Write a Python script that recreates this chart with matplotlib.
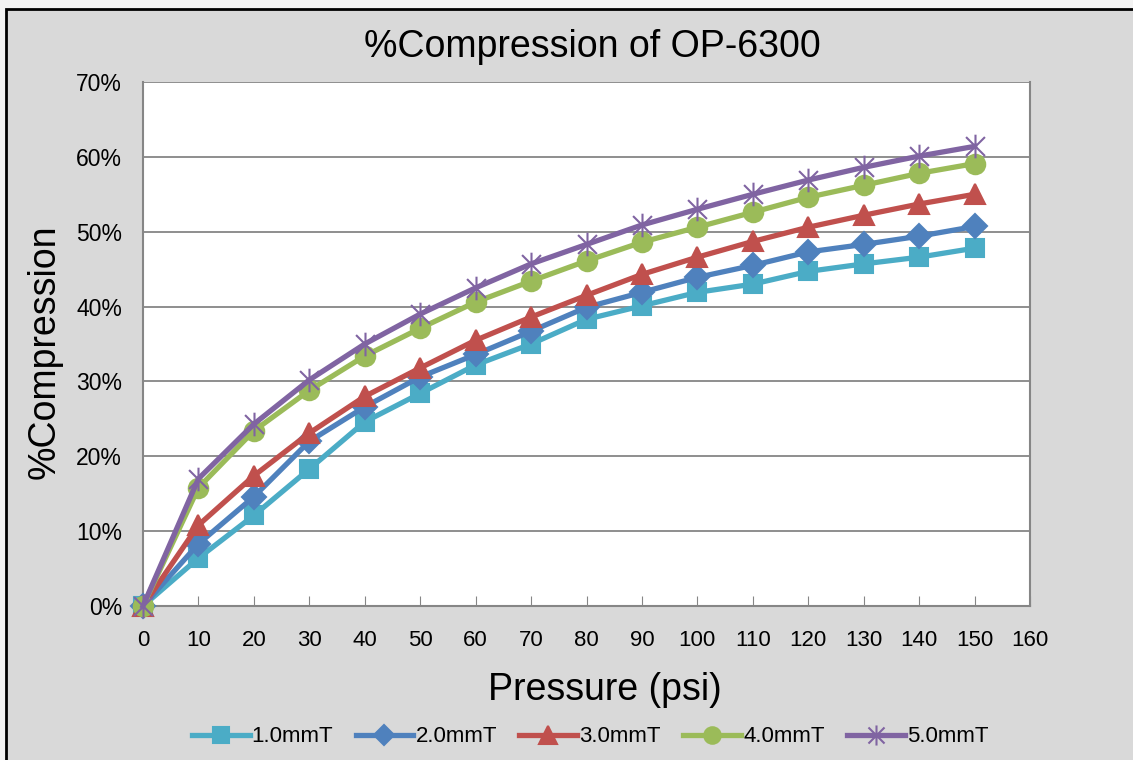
import matplotlib
matplotlib.use('Agg')
import matplotlib.pyplot as plt
from matplotlib.patches import Rectangle
from matplotlib.path import Path
from matplotlib.ticker import PercentFormatter, MultipleLocator

plt.rcParams['font.family'] = ['Liberation Sans', 'DejaVu Sans']

# pressure (psi)
pressure = [0, 10, 20, 30, 40, 50, 60, 70, 80, 90, 100, 110, 120, 130, 140, 150]

# % compression
c_1mm = [0, 6.4, 12.1, 18.3, 24.6, 28.4, 32.2, 35.0, 38.3, 40.1, 41.9, 43.0, 44.7, 45.7, 46.6, 47.8]
c_2mm = [0, 8.3, 14.6, 22.0, 26.6, 30.6, 33.6, 36.7, 39.9, 41.9, 43.9, 45.5, 47.3, 48.3, 49.4, 50.7]
c_3mm = [0, 10.8, 17.4, 23.1, 28.0, 31.8, 35.5, 38.6, 41.5, 44.3, 46.6, 48.7, 50.6, 52.2, 53.7, 55.0]
c_4mm = [0, 15.8, 23.4, 28.8, 33.4, 37.1, 40.6, 43.4, 46.1, 48.6, 50.6, 52.6, 54.6, 56.2, 57.8, 59.1]
c_5mm = [0, 17.0, 24.3, 30.2, 35.0, 39.0, 42.5, 45.7, 48.3, 50.9, 53.0, 55.0, 56.9, 58.6, 60.1, 61.4]

labels = ['1.0mmT', '2.0mmT', '3.0mmT', '4.0mmT', '5.0mmT']
series = [c_1mm, c_2mm, c_3mm, c_4mm, c_5mm]
colors = ['#4BACC6', '#4F81BD', '#C0504D', '#9BBB59', '#8064A2']

# excel style star: an x with a vertical bar
star = Path([(0, -1), (0, 1), (-0.8, -0.8), (0.8, 0.8), (-0.8, 0.8), (0.8, -0.8)],
            [Path.MOVETO, Path.LINETO, Path.MOVETO, Path.LINETO, Path.MOVETO, Path.LINETO])
markers = ['s', 'D', '^', 'o', star]
msizes = [13.5, 12.5, 14.5, 14, 17]

fig = plt.figure(figsize=(11.33, 7.6), dpi=100)
fig.patch.set_facecolor('#f2f2f2')
# grey chart frame with black border
frame = Rectangle((6/1133, -0.01), 1.2, (760-9)/760 + 0.01, transform=fig.transFigure,
                  facecolor='#d9d9d9', edgecolor='black', linewidth=2, zorder=-5)
fig.patches.append(frame)

ax = fig.add_axes([143/1133, 1-606/760, (1030-143)/1133, (606-82)/760])
ax.set_facecolor('white')

for s, lab, col, mk, ms in zip(series, labels, colors, markers, msizes):
    ax.plot(pressure, [v/100 for v in s], color=col, lw=3.8, marker=mk, markersize=ms,
            markerfacecolor=col, markeredgecolor=col, markeredgewidth=1.5,
            label=lab, clip_on=False, zorder=3)

ax.set_xlim(0, 160)
ax.set_ylim(0, 0.7)
ax.xaxis.set_major_locator(MultipleLocator(10))
ax.yaxis.set_major_locator(MultipleLocator(0.1))
ax.yaxis.set_major_formatter(PercentFormatter(1.0, decimals=0))
ax.grid(axis='y', color='#868686', lw=1.3)
ax.set_axisbelow(True)
for sp in ax.spines.values():
    sp.set_color('#868686')
    sp.set_linewidth(1.5)
ax.spines['top'].set_visible(False)
ax.tick_params(axis='x', direction='in', length=7, color='#868686', labelsize=16, pad=17)
ax.tick_params(axis='y', length=0, labelsize=16.5, pad=15)

fig.text(592/1133, 1-47/760, '%Compression of OP-6300', ha='center', va='center', fontsize=27)
fig.text(605/1133, 1-690/760, 'Pressure (psi)', ha='center', va='center', fontsize=27)
fig.text(45/1133, 1-352/760, '%Compression', ha='center', va='center', fontsize=27, rotation=90)

fig.legend(loc='center', bbox_to_anchor=(590/1133, 1-737/760), ncol=5, frameon=False,
           handlelength=2.6, handletextpad=0.1, columnspacing=1.0, markerscale=0.85,
           prop={'size': 16})

fig.savefig('out.png', dpi=100)
